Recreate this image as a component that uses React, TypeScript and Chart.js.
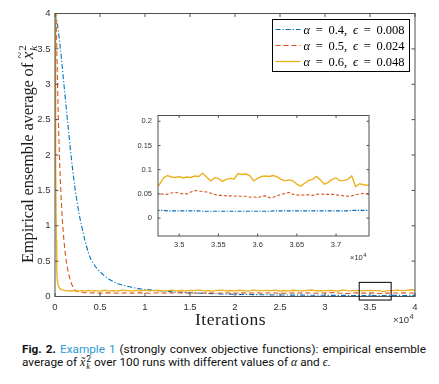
import React, { useEffect, useRef } from "react";
import { Chart, registerables } from "chart.js";

Chart.register(...registerables);

// ---------------- data (main plot) ----------------
const iterations = [
  0, 50, 100, 150, 200, 250, 300, 350, 400, 450,
  500, 600, 700, 800, 900, 1000, 1100, 1200, 1300, 1400,
  1500, 1750, 2000, 2250, 2500, 2750, 3000, 3250, 3500, 3750,
  4000, 4500, 5000, 5500, 6000, 6500, 7000, 7500, 8000, 8500,
  9000, 9500, 10000, 10500, 11000, 11500, 12000, 12500, 13000, 13500,
  14000, 14500, 15000, 15500, 16000, 16500, 17000, 17500, 18000, 18500,
  19000, 19500, 20000, 20500, 21000, 21500, 22000, 22500, 23000, 23500,
  24000, 24500, 25000, 25500, 26000, 26500, 27000, 27500, 28000, 28500,
  29000, 29500, 30000, 30500, 31000, 31500, 32000, 32500, 33000, 33500,
  34000, 34500, 35000, 35500, 36000, 36500, 37000, 37500, 38000, 38500,
  39000, 39500, 40000,
];

const alpha04 = [
  4.0, 3.97, 3.95, 3.93, 3.9, 3.86, 3.82, 3.77, 3.72, 3.67,
  3.62, 3.5, 3.38, 3.25, 3.12, 2.99, 2.86, 2.73, 2.6, 2.47,
  2.35, 2.03, 1.75, 1.5, 1.3, 1.12, 0.97, 0.83, 0.71, 0.6,
  0.52, 0.42, 0.35, 0.29, 0.245, 0.21, 0.18, 0.16, 0.145, 0.13,
  0.118, 0.108, 0.1, 0.094, 0.088, 0.082, 0.077, 0.072, 0.068, 0.064,
  0.06, 0.056, 0.053, 0.05, 0.047, 0.045, 0.042, 0.04, 0.038, 0.036,
  0.034, 0.033, 0.032, 0.03, 0.029, 0.028, 0.027, 0.026, 0.025, 0.024,
  0.023, 0.022, 0.021, 0.021, 0.02, 0.02, 0.019, 0.019, 0.018, 0.018,
  0.017, 0.017, 0.017, 0.016, 0.016, 0.016, 0.016, 0.015, 0.015, 0.015,
  0.015, 0.015, 0.016, 0.014, 0.014, 0.015, 0.015, 0.016, 0.016, 0.015,
  0.015, 0.016, 0.016,
];

const alpha05 = [
  4.6, 4.35, 4.1, 3.85, 3.5, 3.2, 2.9, 2.62, 2.38, 2.15,
  1.95, 1.62, 1.35, 1.12, 0.94, 0.78, 0.65, 0.55, 0.46, 0.385,
  0.325, 0.21, 0.13, 0.09, 0.07, 0.06, 0.056, 0.054, 0.052, 0.05,
  0.049, 0.051, 0.048, 0.05, 0.053, 0.049, 0.047, 0.05, 0.052, 0.048,
  0.05, 0.054, 0.049, 0.046, 0.05, 0.052, 0.049, 0.047, 0.051, 0.053,
  0.05, 0.048, 0.05, 0.047, 0.051, 0.049, 0.052, 0.048, 0.046, 0.05,
  0.053, 0.049, 0.047, 0.05, 0.052, 0.048, 0.05, 0.051, 0.047, 0.049,
  0.052, 0.05, 0.048, 0.046, 0.049, 0.051, 0.05, 0.048, 0.052, 0.05,
  0.047, 0.049, 0.05, 0.053, 0.055, 0.049, 0.046, 0.043, 0.048, 0.052,
  0.048, 0.047, 0.052, 0.047, 0.042, 0.048, 0.048, 0.049, 0.05, 0.048,
  0.051, 0.05, 0.049,
];

const alpha06 = [
  4.0, 3.0, 1.9, 0.8, 0.35, 0.24, 0.19, 0.16, 0.145, 0.13,
  0.12, 0.108, 0.1, 0.095, 0.09, 0.088, 0.085, 0.083, 0.082, 0.08,
  0.08, 0.078, 0.082, 0.077, 0.075, 0.08, 0.083, 0.078, 0.081, 0.085,
  0.079, 0.082, 0.076, 0.088, 0.08, 0.084, 0.078, 0.09, 0.083, 0.077,
  0.086, 0.081, 0.092, 0.079, 0.084, 0.088, 0.076, 0.083, 0.09, 0.08,
  0.085, 0.078, 0.087, 0.082, 0.093, 0.079, 0.084, 0.077, 0.086, 0.09,
  0.081, 0.085, 0.079, 0.088, 0.083, 0.076, 0.089, 0.084, 0.08, 0.087,
  0.082, 0.091, 0.078, 0.085, 0.08, 0.088, 0.083, 0.077, 0.086, 0.092,
  0.081, 0.084, 0.079, 0.087, 0.082, 0.078, 0.089, 0.083, 0.08, 0.086,
  0.079, 0.083, 0.086, 0.082, 0.082, 0.07, 0.083, 0.084, 0.09, 0.082,
  0.086, 0.095, 0.088,
];

const mainXTicks = [0, 5000, 10000, 15000, 20000, 25000, 30000, 35000, 40000];
const mainXTickLabels = ["0", "0.5", "1", "1.5", "2", "2.5", "3", "3.5", "4"];
const mainYTicks = [0, 0.5, 1, 1.5, 2, 2.5, 3, 3.5, 4];
const mainYTickLabels = ["0", "0.5", "1", "1.5", "2", "2.5", "3", "3.5", "4"];

// zoom rectangle drawn on the main plot (data coordinates)
const zoomBoxIter = [33800, 37350];
const zoomBoxValue = [-0.05, 0.2];

// ---------------- data (inset) ----------------
const insetIterations = [
  34700, 34750, 34800, 34850, 34900, 34950, 35000, 35050, 35100, 35150,
  35200, 35250, 35300, 35350, 35400, 35450, 35500, 35550, 35600, 35650,
  35700, 35750, 35800, 35850, 35900, 35950, 36000, 36050, 36100, 36150,
  36200, 36250, 36300, 36350, 36400, 36450, 36500, 36550, 36600, 36650,
  36700, 36750, 36800, 36850, 36900, 36950, 37000, 37050, 37100, 37150,
  37200, 37250, 37300, 37350, 37400, 37450,
];

const insetAlpha04 = [
  0.016, 0.016, 0.016, 0.015, 0.015, 0.015, 0.015, 0.015, 0.015, 0.015,
  0.015, 0.015, 0.014, 0.014, 0.014, 0.014, 0.014, 0.014, 0.014, 0.014,
  0.014, 0.014, 0.014, 0.014, 0.014, 0.014, 0.014, 0.014, 0.014, 0.014,
  0.015, 0.015, 0.015, 0.015, 0.015, 0.015, 0.015, 0.015, 0.015, 0.015,
  0.015, 0.015, 0.015, 0.015, 0.015, 0.015, 0.015, 0.015, 0.015, 0.015,
  0.016, 0.016, 0.016, 0.016, 0.016, 0.016,
];

const insetAlpha05 = [
  0.048, 0.049, 0.05, 0.049, 0.052, 0.053, 0.052, 0.05, 0.05, 0.054,
  0.057, 0.056, 0.055, 0.054, 0.052, 0.049, 0.047, 0.047, 0.046, 0.046,
  0.045, 0.046, 0.045, 0.045, 0.043, 0.044, 0.042, 0.045, 0.046, 0.042,
  0.043, 0.046, 0.049, 0.051, 0.053, 0.049, 0.048, 0.047, 0.048, 0.048,
  0.047, 0.049, 0.05, 0.049, 0.049, 0.049, 0.048, 0.047, 0.046, 0.045,
  0.046, 0.048, 0.05, 0.051, 0.05, 0.05,
];

const insetAlpha06 = [
  0.06, 0.07, 0.083, 0.088, 0.085, 0.084, 0.086, 0.083, 0.085, 0.084,
  0.087, 0.086, 0.093, 0.085, 0.077, 0.083, 0.082, 0.076, 0.08, 0.082,
  0.081, 0.092, 0.09, 0.091, 0.088, 0.077, 0.082, 0.086, 0.087, 0.086,
  0.088, 0.085, 0.08, 0.077, 0.079, 0.077, 0.07, 0.066, 0.072, 0.078,
  0.08, 0.086, 0.079, 0.07, 0.074, 0.08, 0.083, 0.077, 0.078, 0.08,
  0.087, 0.065, 0.071, 0.069, 0.068, 0.069,
];

const insetXTicks = [35000, 35500, 36000, 36500, 37000];
const insetXTickLabels = ["3.5", "3.55", "3.6", "3.65", "3.7"];
const insetYTicks = [0, 0.05, 0.1, 0.15, 0.2];
const insetYTickLabels = ["0", "0.05", "0.1", "0.15", "0.2"];
const insetXRange = [34730, 37420];
const insetYRange = [-0.037, 0.212];

// legend texts
const legendAlpha = ["0.4", "0.5", "0.6"];
const legendEps = ["0.008", "0.024", "0.048"];

// ---------------- styles ----------------
const BLUE = "#0072BD";
const RED = "#D95319";
const YELLOW = "#EDB120";
const AXIS = "#505050";
const TICKTXT = "#333333";
const SANS = '"Liberation Sans", Arial, Helvetica, sans-serif';
const SERIF = '"Liberation Serif", "DejaVu Serif", "Times New Roman", serif';

const seriesStyle = [
  { color: BLUE, dash: [5, 2, 1.2, 2], width: 1.1, order: 3 },
  { color: RED, dash: [5, 3], width: 1.1, order: 2 },
  { color: YELLOW, dash: [] as number[], width: 1.3, order: 1 },
];

function pts(xs: number[], ys: number[]) {
  return xs.map((x, i) => ({ x, y: ys[i] }));
}

function boxTicksPlugin(tickLen: number) {
  return {
    id: "boxTicks",
    afterDatasetsDraw(chart: any) {
      const { ctx, chartArea: a, scales } = chart;
      ctx.save();
      ctx.strokeStyle = AXIS;
      ctx.lineWidth = 1;
      ctx.strokeRect(a.left, a.top, a.right - a.left, a.bottom - a.top);
      ctx.beginPath();
      scales.x.ticks.forEach((t: any) => {
        const px = scales.x.getPixelForValue(t.value);
        ctx.moveTo(px, a.bottom);
        ctx.lineTo(px, a.bottom - tickLen);
        ctx.moveTo(px, a.top);
        ctx.lineTo(px, a.top + tickLen);
      });
      scales.y.ticks.forEach((t: any) => {
        const py = scales.y.getPixelForValue(t.value);
        ctx.moveTo(a.left, py);
        ctx.lineTo(a.left + tickLen, py);
        ctx.moveTo(a.right, py);
        ctx.lineTo(a.right - tickLen, py);
      });
      ctx.stroke();
      ctx.restore();
    },
  };
}

function drawTimesTen(ctx: CanvasRenderingContext2D, x: number, base: number, size: number, supSize: number, supRise: number) {
  ctx.font = `${size}px ${SANS}`;
  ctx.fillStyle = TICKTXT;
  ctx.textAlign = "left";
  ctx.textBaseline = "alphabetic";
  ctx.fillText("\u00D710", x, base);
  const w = ctx.measureText("\u00D710").width;
  ctx.font = `${supSize}px ${SANS}`;
  ctx.fillText("4", x + w + 0.5, base - supRise);
}

const mainDecor = {
  id: "mainDecor",
  afterDraw(chart: any) {
    const { ctx, chartArea: a, scales } = chart;
    const xs = scales.x;
    const ys = scales.y;
    ctx.save();

    // zoom rectangle
    const bx0 = xs.getPixelForValue(zoomBoxIter[0]);
    const bx1 = xs.getPixelForValue(zoomBoxIter[1]);
    const by0 = ys.getPixelForValue(zoomBoxValue[1]);
    const by1 = ys.getPixelForValue(zoomBoxValue[0]);
    ctx.strokeStyle = "#000";
    ctx.lineWidth = 1;
    ctx.strokeRect(bx0, by0, bx1 - bx0, by1 - by0);

    // legend
    const lw = 137;
    const lh = 52;
    const lx = Math.round(a.right - 6 - lw) + 0.5;
    const ly = Math.round(a.top + 5.5) + 0.5;
    ctx.fillStyle = "#fff";
    ctx.fillRect(lx, ly, lw, lh);
    ctx.strokeStyle = "#000";
    ctx.lineWidth = 1;
    ctx.strokeRect(lx, ly, lw, lh);
    const fs = 12.5;
    for (let i = 0; i < 3; i++) {
      const st = seriesStyle[i];
      const cy = ly + 10 + 16 * i;
      ctx.save();
      ctx.strokeStyle = st.color;
      ctx.lineWidth = st.width;
      ctx.setLineDash(st.dash);
      ctx.beginPath();
      ctx.moveTo(lx + 3, cy);
      ctx.lineTo(lx + 28, cy);
      ctx.stroke();
      ctx.restore();
      const segs = [
        { t: "\u03B1", it: true },
        { t: "=", it: false },
        { t: legendAlpha[i] + ",", it: false },
        { t: "\u03F5", it: true },
        { t: "=", it: false },
        { t: legendEps[i], it: false },
      ];
      let W = 0;
      const widths = segs.map((s) => {
        ctx.font = `${s.it ? "italic " : ""}${fs}px ${SERIF}`;
        const w = ctx.measureText(s.t).width;
        W += w;
        return w;
      });
      const gap = (101 - W) / 5;
      let tx = lx + 31;
      ctx.fillStyle = "#000";
      ctx.textBaseline = "alphabetic";
      ctx.textAlign = "left";
      segs.forEach((s, k) => {
        ctx.font = `${s.it ? "italic " : ""}${fs}px ${SERIF}`;
        ctx.fillText(s.t, tx, cy + 4);
        tx += widths[k] + gap;
      });
    }

    // x-axis title
    ctx.fillStyle = "#1a1a1a";
    ctx.font = `17.5px ${SERIF}`;
    const title = "Iterations";
    const tw = ctx.measureText(title).width;
    const ls = Math.max(0, (71 - tw) / title.length);
    (ctx as any).letterSpacing = `${ls}px`;
    ctx.textAlign = "left";
    ctx.fillText(title, (a.left + a.right) / 2 - 40, a.bottom + 28.5);
    (ctx as any).letterSpacing = "0px";

    // y-axis title (rotated)
    ctx.save();
    ctx.translate(32.5, 263);
    ctx.rotate(-Math.PI / 2);
    ctx.font = `16.5px ${SERIF}`;
    const ytxt = "Empirical ensemble average of";
    const yw = ctx.measureText(ytxt).width;
    const yls = (200 - yw) / ytxt.length;
    (ctx as any).letterSpacing = `${yls}px`;
    ctx.fillText(ytxt, 0, 0);
    (ctx as any).letterSpacing = "0px";
    const xstart = 204;
    ctx.font = `italic 16.5px ${SERIF}`;
    ctx.fillText("x", xstart, 0);
    const xw = ctx.measureText("x").width;
    ctx.font = `12px ${SERIF}`;
    ctx.fillText("~", xstart + 0.5, -9);
    ctx.font = `11px ${SERIF}`;
    ctx.fillText("2", xstart + xw + 1, -7);
    ctx.font = `italic 11px ${SERIF}`;
    ctx.fillText("k", xstart + xw + 1, 4);
    ctx.restore();

    // x10^4 multiplier
    drawTimesTen(ctx, a.right - 22, a.bottom + 26.5, 9.5, 7.5, 4);

    ctx.restore();
  },
};

const insetDecor = {
  id: "insetDecor",
  beforeDatasetsDraw(chart: any) {
    const { ctx, chartArea: a } = chart;
    ctx.save();
    ctx.fillStyle = "#fff";
    ctx.fillRect(a.left, a.top, a.right - a.left, a.bottom - a.top);
    ctx.restore();
  },
  afterDraw(chart: any) {
    const { ctx, chartArea: a } = chart;
    ctx.save();
    drawTimesTen(ctx, a.right - 19, a.bottom + 24, 7.5, 6, 3.3);
    ctx.restore();
  },
};

function tickAxis(ticks: number[], labels: string[], opts: any) {
  return {
    type: "linear",
    min: opts.min,
    max: opts.max,
    afterBuildTicks: (scale: any) => {
      scale.ticks = ticks.map((v) => ({ value: v }));
    },
    afterFit: (scale: any) => {
      if (opts.width !== undefined) scale.width = opts.width;
      if (opts.height !== undefined) scale.height = opts.height;
    },
    grid: { display: false, drawTicks: false },
    border: { display: false },
    ticks: {
      autoSkip: false,
      maxRotation: 0,
      minRotation: 0,
      padding: opts.padding,
      color: TICKTXT,
      font: { family: SANS, size: opts.size },
      callback: (v: number) => {
        const i = ticks.findIndex((t) => Math.abs(t - v) < 1e-9);
        return i >= 0 ? labels[i] : "";
      },
    },
  };
}

export default function App() {
  const mainRef = useRef<HTMLCanvasElement>(null);
  const insetRef = useRef<HTMLCanvasElement>(null);

  useEffect(() => {
    const mainSeries = [alpha04, alpha05, alpha06];
    const main = new Chart(mainRef.current as HTMLCanvasElement, {
      type: "line",
      data: {
        datasets: mainSeries.map((vals, i) => ({
          label: `alpha ${legendAlpha[i]}`,
          data: pts(iterations, vals),
          borderColor: seriesStyle[i].color,
          borderDash: seriesStyle[i].dash,
          borderWidth: seriesStyle[i].width,
          pointRadius: 0,
          tension: 0,
          fill: false,
          order: seriesStyle[i].order,
        })),
      },
      options: {
        responsive: false,
        animation: false,
        events: [],
        layout: { padding: { left: 0, right: 24, top: 13.5, bottom: 0 } },
        plugins: { legend: { display: false }, tooltip: { enabled: false } },
        scales: {
          x: tickAxis(mainXTicks, mainXTickLabels, { min: 0, max: 40000, height: 38.5, padding: 5, size: 9.5 }),
          y: tickAxis(mainYTicks, mainYTickLabels, { min: 0, max: 4, width: 55, padding: 4.5, size: 9.5 }),
        },
      } as any,
      plugins: [boxTicksPlugin(3.5), mainDecor],
    });

    const insetSeries = [insetAlpha04, insetAlpha05, insetAlpha06];
    const insetDash = [[4, 1.5, 1.2, 1.5], [3, 2], [] as number[]];
    const inset = new Chart(insetRef.current as HTMLCanvasElement, {
      type: "line",
      data: {
        datasets: insetSeries.map((vals, i) => ({
          label: `alpha ${legendAlpha[i]}`,
          data: pts(insetIterations, vals),
          borderColor: seriesStyle[i].color,
          borderDash: insetDash[i],
          borderWidth: i === 2 ? 1.4 : 1.1,
          pointRadius: 0,
          tension: 0,
          fill: false,
          order: seriesStyle[i].order,
        })),
      },
      options: {
        responsive: false,
        animation: false,
        events: [],
        layout: { padding: { left: 0, right: 11, top: 8, bottom: 0 } },
        plugins: { legend: { display: false }, tooltip: { enabled: false } },
        scales: {
          x: tickAxis(insetXTicks, insetXTickLabels, { min: insetXRange[0], max: insetXRange[1], height: 29, padding: 4, size: 7.5 }),
          y: tickAxis(insetYTicks, insetYTickLabels, { min: insetYRange[0], max: insetYRange[1], width: 38, padding: 6, size: 7.5 }),
        },
      } as any,
      plugins: [insetDecor, boxTicksPlugin(2.5)],
    });

    return () => {
      main.destroy();
      inset.destroy();
    };
  }, []);

  const mathI: React.CSSProperties = { fontFamily: SERIF, fontStyle: "italic" };

  return (
    <div style={{ position: "absolute", left: 0, top: 0, width: 439, height: 384, background: "#fff", overflow: "hidden" }}>
      <canvas ref={mainRef} width={439} height={335} style={{ position: "absolute", left: 0, top: 0 }} />
      <canvas ref={insetRef} width={260} height={160} style={{ position: "absolute", left: 120, top: 105 }} />
      <div
        style={{
          position: "absolute",
          left: 22,
          top: 342.5,
          width: 404,
          fontFamily: 'Roboto, "Liberation Sans", sans-serif',
          fontSize: 11.8,
          lineHeight: "13px",
          color: "#111",
        }}
      >
        <div style={{ textAlign: "justify", textAlignLast: "justify" }}>
          <b>Fig. 2.</b> <span style={{ color: "#2b9bd3" }}>Example 1</span> (strongly convex objective functions): empirical ensemble
        </div>
        <div>
          average of <span style={mathI}>x&#771;</span>
          <span style={{ display: "inline-block", verticalAlign: "-3px", lineHeight: "7px", fontSize: 8.5, marginLeft: 1 }}>
            <span style={{ display: "block" }}>2</span>
            <span style={{ display: "block", ...mathI }}>k</span>
          </span>{" "}
          over 100 runs with different values of <span style={mathI}>&alpha;</span> and <span style={mathI}>&#1013;</span>.
        </div>
      </div>
    </div>
  );
}
